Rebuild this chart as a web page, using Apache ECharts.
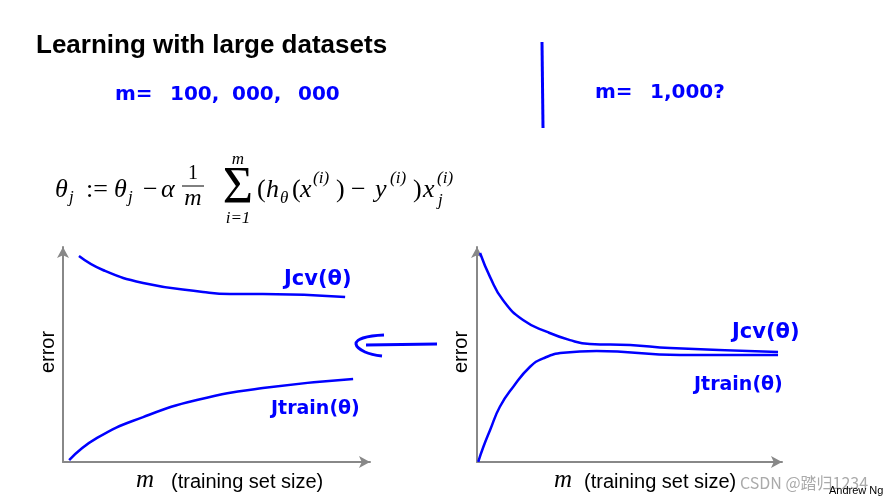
<!DOCTYPE html>
<html>
<head>
<meta charset="utf-8">
<script src="https://cdn.jsdelivr.net/npm/echarts@6/dist/echarts.min.js"></script>
<style>
  html, body { margin: 0; padding: 0; background: #fff; }
  #main { width: 887px; height: 503px; }
</style>
</head>
<body>
<div id="main"></div>
<script>
// curves, x = training set size, y = error (both 0..100 of the axis)
const leftCv = [[5.2, 95.8], [13, 89.3], [26.1, 83.3], [45.6, 79.1], [54.4, 78.1], [65.1, 78.1], [91.9, 76.7]]
const leftTrain = [[2, 0.9], [11.1, 11.2], [26.1, 20.9], [43.6, 28.8], [65.1, 34.4], [94.5, 38.6]]
const rightCv = [[1, 97.2], [4.3, 86], [8.5, 75.3], [15.1, 66], [23, 60.5], [30.5, 56.7], [37, 54.9], [50.2, 54.4], [63.3, 53], [98.7, 51.2]]
const rightTrain = [[0.4, 0.1], [2.1, 7.1], [4.3, 14.9], [7.5, 25.7], [11.9, 35], [17.4, 44.3], [21.7, 48.2], [28.3, 50.8], [39.2, 51.6], [66.6, 49.8], [98.7, 49.8]]

const blue = '#0000ff'
const grey = '#888888'
const serif = '"Liberation Serif", "DejaVu Serif", serif'
const sans = '"Liberation Sans", "DejaVu Sans", sans-serif'
const hand = '"DejaVu Sans", sans-serif'

function txt(x, y, s, font, extra) {
  return Object.assign({
    type: 'text', x: x, y: y, silent: true,
    style: Object.assign({ text: s, font: font, fill: '#000', align: 'left', verticalAlign: 'middle' }, (extra || {}).style)
  }, extra ? { rotation: extra.rotation || 0 } : {})
}

function axisPair(idx) {
  const line = { show: true, lineStyle: { color: grey, width: 2 }, symbol: ['none', 'arrow'], symbolSize: [9, 11] }
  return {
    x: { gridIndex: idx, type: 'value', min: 0, max: 100, axisLine: line, axisTick: { show: false }, axisLabel: { show: false }, splitLine: { show: false } },
    y: { gridIndex: idx, type: 'value', min: 0, max: 100, axisLine: line, axisTick: { show: false }, axisLabel: { show: false }, splitLine: { show: false } }
  }
}

const a0 = axisPair(0), a1 = axisPair(1)

function curve(idx, data) {
  return {
    type: 'line', xAxisIndex: idx, yAxisIndex: idx, data: data, smooth: true,
    symbol: 'none', lineStyle: { color: blue, width: 2.5 }, silent: true
  }
}

const blueTxt = { style: { fill: blue } }

const chart = echarts.init(document.getElementById('main'))
chart.setOption({
  animation: false,
  backgroundColor: '#fff',
  grid: [
    { left: 63, top: 247, width: 307, height: 215 },
    { left: 477, top: 247, width: 305, height: 215 }
  ],
  xAxis: [a0.x, a1.x],
  yAxis: [a0.y, a1.y],
  series: [curve(0, leftCv), curve(0, leftTrain), curve(1, rightCv), curve(1, rightTrain)],
  graphic: [
    txt(36, 46, 'Learning with large datasets', 'bold 26px ' + sans),
    // handwritten notes
    txt(115, 95, 'm=', 'bold 20px ' + hand, blueTxt),
    txt(170, 95, '100,', 'bold 20px ' + hand, blueTxt),
    txt(232, 95, '000,', 'bold 20px ' + hand, blueTxt),
    txt(298, 95, '000', 'bold 20px ' + hand, blueTxt),
    { type: 'line', silent: true, shape: { x1: 542, y1: 42, x2: 543, y2: 128 }, style: { stroke: blue, lineWidth: 3 } },
    txt(595, 93, 'm=', 'bold 20px ' + hand, blueTxt),
    txt(650, 93, '1,000?', 'bold 20px ' + hand, blueTxt),
    // update rule
    txt(55, 190, 'θ', 'italic 26px ' + serif),
    txt(69, 198, 'j', 'italic 17px ' + serif),
    txt(86, 190, ':=', '26px ' + serif),
    txt(114, 190, 'θ', 'italic 26px ' + serif),
    txt(128, 198, 'j', 'italic 17px ' + serif),
    txt(143, 190, '−', '26px ' + serif),
    txt(161, 190, 'α', 'italic 26px ' + serif),
    txt(193, 174, '1', '20px ' + serif, { style: { align: 'center' } }),
    { type: 'line', silent: true, shape: { x1: 182, y1: 186, x2: 204, y2: 186 }, style: { stroke: '#000', lineWidth: 1 } },
    txt(193, 199, 'm', 'italic 24px ' + serif, { style: { align: 'center' } }),
    txt(238, 189, 'Σ', '52px ' + serif, { style: { align: 'center' } }),
    txt(238, 160, 'm', 'italic 17px ' + serif, { style: { align: 'center' } }),
    txt(238, 219, 'i=1', 'italic 17px ' + serif, { style: { align: 'center' } }),
    txt(257, 190, '(', '26px ' + serif),
    txt(266, 190, 'h', 'italic 26px ' + serif),
    txt(280, 199, 'θ', 'italic 17px ' + serif),
    txt(292, 190, '(', '26px ' + serif),
    txt(300, 190, 'x', 'italic 26px ' + serif),
    txt(313, 179, '(i)', 'italic 17px ' + serif),
    txt(336, 190, ')', '26px ' + serif),
    txt(351, 190, '−', '26px ' + serif),
    txt(375, 190, 'y', 'italic 26px ' + serif),
    txt(390, 179, '(i)', 'italic 17px ' + serif),
    txt(413, 190, ')', '26px ' + serif),
    txt(423, 190, 'x', 'italic 26px ' + serif),
    txt(437, 179, '(i)', 'italic 17px ' + serif),
    txt(438, 201, 'j', 'italic 17px ' + serif),
    // axis titles
    txt(48, 352, 'error', '20px ' + sans, { rotation: Math.PI / 2, style: { align: 'center' } }),
    txt(461, 352, 'error', '20px ' + sans, { rotation: Math.PI / 2, style: { align: 'center' } }),
    txt(136, 480, 'm', 'italic 25px ' + serif),
    txt(171, 482, '(training set size)', '20px ' + sans),
    txt(554, 480, 'm', 'italic 25px ' + serif),
    txt(584, 482, '(training set size)', '20px ' + sans),
    // curve labels
    txt(284, 280, 'Jcv(θ)', 'bold 21px ' + hand, blueTxt),
    txt(271, 409, 'Jtrain(θ)', 'bold 19px ' + hand, blueTxt),
    txt(732, 333, 'Jcv(θ)', 'bold 21px ' + hand, blueTxt),
    txt(694, 385, 'Jtrain(θ)', 'bold 19px ' + hand, blueTxt),
    // arrow between the plots
    { type: 'line', silent: true, shape: { x1: 437, y1: 344, x2: 366, y2: 345 }, style: { stroke: blue, lineWidth: 3 } },
    { type: 'polyline', silent: true, shape: { points: [[384, 335], [363, 338], [356, 344], [365, 352], [382, 356]], smooth: 0.4 }, style: { stroke: blue, lineWidth: 3, fill: null } },
    // footer
    txt(740, 483, 'CSDN @踏归1234', '16px "Noto Sans CJK SC", ' + sans, { style: { fill: '#aaaaaa' } }),
    txt(829, 491, 'Andrew Ng', '11px ' + sans)
  ]
})
</script>
</body>
</html>
